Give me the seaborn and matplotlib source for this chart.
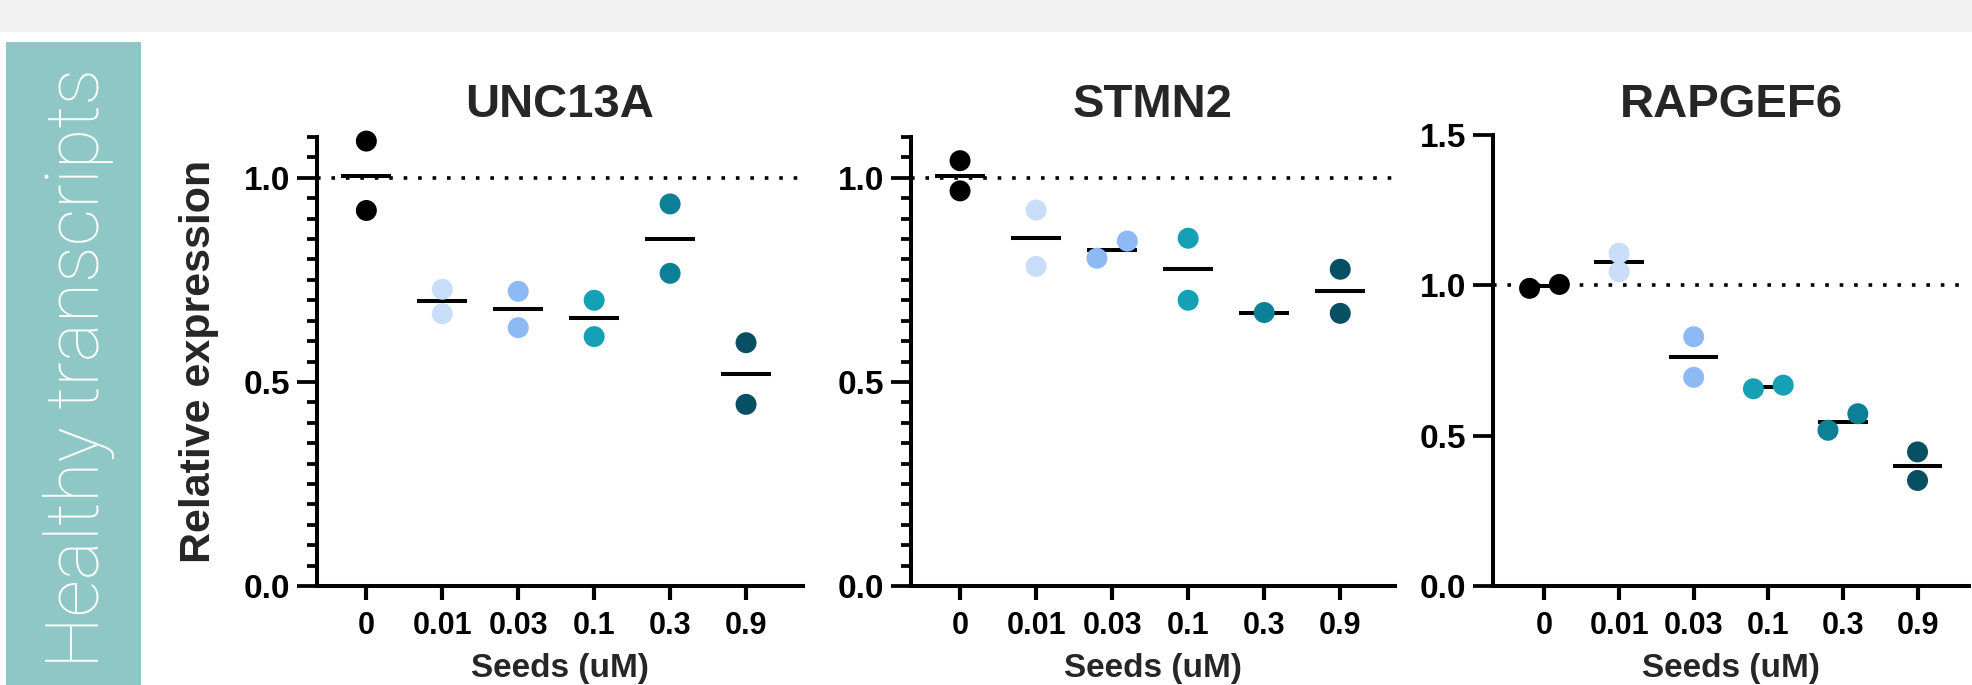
import numpy as np
import pandas as pd
import matplotlib
matplotlib.use("Agg")
import matplotlib.pyplot as plt
from matplotlib.patches import Rectangle
from matplotlib.ticker import MultipleLocator, FormatStrFormatter, FixedLocator
import seaborn as sns

# ---- data -------------------------------------------------------------
doses = ["0", "0.01", "0.03", "0.1", "0.3", "0.9"]
dose_colors = ["#000000", "#c8ddf7", "#8dbaf5", "#16a0b6", "#0d7f97", "#074f63"]

genes = ["UNC13A", "STMN2", "RAPGEF6"]

# replicate values per dose (relative expression)
unc13a = [[1.09, 0.92], [0.727, 0.667], [0.722, 0.633],
          [0.700, 0.611], [0.936, 0.766], [0.596, 0.445]]
stmn2 = [[1.042, 0.968], [0.921, 0.783], [0.803, 0.845],
         [0.852, 0.700], [0.670], [0.776, 0.668]]
rapgef6 = [[0.990, 1.003], [1.107, 1.045], [0.829, 0.694],
           [0.656, 0.668], [0.518, 0.573], [0.446, 0.351]]

panel_values = [unc13a, stmn2, rapgef6]
y_tops = [1.1, 1.1, 1.5]

# ---- style ------------------------------------------------------------
sns.set_style("ticks")
plt.rcParams["font.family"] = ["Liberation Sans", "DejaVu Sans"]
plt.rcParams["font.weight"] = "bold"

W, H = 1972, 685
fig = plt.figure(figsize=(W / 100, H / 100), dpi=100)
fig.patch.set_facecolor("white")

# header strip and side banner
fig.patches.append(Rectangle((0, 1 - 32 / H), 1, 32 / H, transform=fig.transFigure,
                             facecolor="#f2f2f2", edgecolor="none", zorder=0))
fig.patches.append(Rectangle((6 / W, 0), 135 / W, (H - 42) / H, transform=fig.transFigure,
                             facecolor="#8fc7c7", edgecolor="none", zorder=0))
fig.text(79 / W, 1 - 368 / H, "Healthy transcripts", rotation=90, ha="center", va="center",
         color="white", fontsize=53, fontweight="light", family=["Roboto", "DejaVu Sans"])

# axes frames in pixels: left spine, right end, top of y range
frames = [(317, 803, 137, (-0.65, 5.75)),
          (911, 1395, 137, (-0.645, 5.72)),
          (1493, 1969, 135, (-0.69, 5.69))]
bottom_px = 586

DOT_PX = 21
palette = dict(zip(doses, dose_colors))


def spread_positions(vals, idx, px_per_unit):
    """Side-by-side placement for replicate dots that would overlap."""
    if len(vals) == 2 and abs(vals[0] - vals[1]) * px_per_unit < 0.88 * DOT_PX:
        lo = 0 if vals[0] <= vals[1] else 1
        pos = [0.0, 0.0]
        pos[lo] = idx - 0.2
        pos[1 - lo] = idx + 0.2
        return pos
    return [float(idx)] * len(vals)


for k, (gene, values, ytop, (lpx, rpx, tpx, xlim)) in enumerate(
        zip(genes, panel_values, y_tops, frames)):
    ax = fig.add_axes([lpx / W, 1 - bottom_px / H, (rpx - lpx) / W, (bottom_px - tpx) / H])
    ax.set_facecolor("none")
    px_per_unit = (bottom_px - tpx) / ytop

    rows = []
    for i, (d, vals) in enumerate(zip(doses, values)):
        for v, p in zip(vals, spread_positions(vals, i, px_per_unit)):
            rows.append({"dose": d, "idx": i, "pos": p, "value": v})
    df = pd.DataFrame(rows)

    # reference line at 1.0
    ax.axhline(1.0, color="black", lw=2.6, ls=(0, (1, 3)), zorder=1)

    # group means
    means = df.groupby("idx")["value"].mean()
    ax.hlines(means.values, means.index - 0.33, means.index + 0.33,
              color="black", lw=2.9, zorder=3)

    sns.scatterplot(data=df, x="pos", y="value", hue="dose", hue_order=doses,
                    palette=palette, s=228, linewidth=0, legend=False,
                    ax=ax, zorder=4, clip_on=False)

    ax.set_xlim(*xlim)
    ax.set_ylim(0, ytop)
    ax.set_xlabel("")
    ax.set_ylabel("")

    sns.despine(ax=ax)
    for side in ("left", "bottom"):
        ax.spines[side].set_linewidth(2.9)
        ax.spines[side].set_color("black")

    ax.set_xticks(range(len(doses)))
    ax.set_xticklabels(doses)
    if ytop > 1.2:
        ax.yaxis.set_major_locator(FixedLocator([0, 0.5, 1.0, 1.5]))
    else:
        ax.yaxis.set_major_locator(FixedLocator([0, 0.5, 1.0]))
        ax.yaxis.set_minor_locator(MultipleLocator(0.05))
    ax.yaxis.set_major_formatter(FormatStrFormatter("%.1f"))

    ax.tick_params(axis="x", direction="out", length=10, width=3.0, pad=8,
                   labelsize=22, colors="black")
    ax.tick_params(axis="y", which="major", direction="out", length=14.4, width=2.7,
                   pad=5, labelsize=24, colors="black")
    ax.tick_params(axis="y", which="minor", direction="out", length=7.2, width=2.7,
                   colors="black")
    for lbl in ax.get_xticklabels() + ax.get_yticklabels():
        lbl.set_fontweight("bold")

    cx = (lpx + rpx) / 2 / W
    fig.text(cx, 1 - 117 / H, gene, ha="center", va="baseline",
             fontsize=34, fontweight="bold")
    fig.text(cx, 1 - 677 / H, "Seeds (uM)", ha="center", va="baseline",
             fontsize=24, fontweight="bold")

fig.text(199 / W, 1 - 361 / H, "Relative expression", rotation=90, ha="center",
         va="center", fontsize=31, fontweight="bold")

fig.savefig("out.png", dpi=100)
